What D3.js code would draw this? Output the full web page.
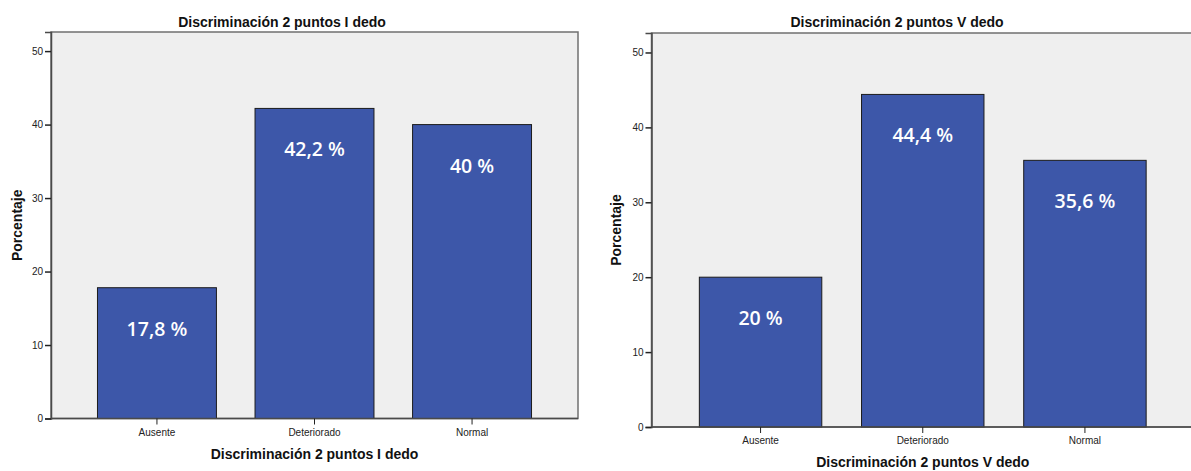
<!DOCTYPE html>
<html><head><meta charset="utf-8">
<script src="https://cdn.jsdelivr.net/npm/d3@7"></script>
<style>body{margin:0;background:#fff}svg{display:block}</style>
</head><body>
<svg id="c" width="1191" height="471"></svg>
<script>
const categories = ["Ausente", "Deteriorado", "Normal"];
const valuesI = [17.8, 42.2, 40];
const valuesV = [20, 44.4, 35.6];
const yTicks = [0, 10, 20, 30, 40, 50];
const titles = ["Discriminación 2 puntos I dedo", "Discriminación 2 puntos V dedo"];
const yLabel = "Porcentaje";

const svg = d3.select("#c");
const panels = [
  {vals: valuesI, title: titles[0], x0: 51, x1: 578, y0: 32, y1: 418.5, titleX: 282, yLabX: 17},
  {vals: valuesV, title: titles[1], x0: 651.5, x1: 1194, y0: 33, y1: 427, titleX: 897, yLabX: 616}
];
const fmt = v => String(v).replace(".", ",") + " %";

panels.forEach(p => {
  const g = svg.append("g");
  const x = d3.scaleBand().domain(categories).range([p.x0, p.x1]).paddingInner(0.245).paddingOuter(0.295);
  const y = d3.scaleLinear().domain([0, 52.6]).range([p.y1, p.y0]);

  g.append("rect").attr("x", p.x0).attr("y", p.y0).attr("width", p.x1 - p.x0).attr("height", p.y1 - p.y0)
    .attr("fill", "#efefef").attr("stroke", "#707070").attr("stroke-width", 1.5);

  g.selectAll("rect.bar").data(p.vals).join("rect").attr("class", "bar")
    .attr("x", (d, i) => x(categories[i])).attr("width", x.bandwidth())
    .attr("y", d => y(d)).attr("height", d => y(0) - y(d))
    .attr("fill", "#3d57a9").attr("stroke", "#1c1c1c").attr("stroke-width", 1);

  g.selectAll("text.val").data(p.vals).join("text").attr("class", "val")
    .attr("x", (d, i) => x(categories[i]) + x.bandwidth() / 2)
    .attr("y", d => y(d) + 48)
    .attr("text-anchor", "middle").attr("fill", "#fff")
    .attr("font-family", "'Open Sans', sans-serif").attr("font-size", 19.5).attr("font-weight", 600)
    .text(fmt);

  const ya = g.append("g").attr("transform", `translate(${p.x0},0)`)
    .call(d3.axisLeft(y).tickValues(yTicks).tickSize(6).tickPadding(2).tickFormat(d3.format("d")));
  ya.select(".domain").attr("stroke", "#4a4a4a").attr("stroke-width", 1.5);
  ya.selectAll(".tick line").attr("stroke", "#222").attr("stroke-width", 1.5);
  ya.selectAll(".tick text").attr("font-family", "'Liberation Sans', Arial, sans-serif").attr("font-size", 10).attr("fill", "#222");

  const xa = g.append("g").attr("transform", `translate(0,${p.y1})`)
    .call(d3.axisBottom(x).tickSize(6).tickPadding(4));
  xa.select(".domain").attr("d", `M${p.x0},0H${p.x1}`).attr("stroke", "#4a4a4a").attr("stroke-width", 1.5);
  xa.selectAll(".tick line").attr("stroke", "#222").attr("stroke-width", 1);
  xa.selectAll(".tick text").attr("font-family", "'Liberation Sans', Arial, sans-serif").attr("font-size", 10).attr("fill", "#222");

  g.append("text").attr("x", p.titleX).attr("y", 27).attr("text-anchor", "middle")
    .attr("font-family", "'Liberation Sans', Arial, sans-serif").attr("font-weight", "bold").attr("font-size", 14)
    .attr("fill", "#111").text(p.title);
  g.append("text").attr("x", (p.x0 + p.x1) / 2).attr("y", p.y1 + 40).attr("text-anchor", "middle")
    .attr("font-family", "'Liberation Sans', Arial, sans-serif").attr("font-weight", "bold").attr("font-size", 14)
    .attr("fill", "#111").text(p.title);
  g.append("text").attr("transform", `translate(${p.yLabX + 5},${(p.y0 + p.y1) / 2}) rotate(-90)`)
    .attr("text-anchor", "middle")
    .attr("font-family", "'Liberation Sans', Arial, sans-serif").attr("font-weight", "bold").attr("font-size", 14)
    .attr("fill", "#111").text(yLabel);
});
</script>
</body></html>
